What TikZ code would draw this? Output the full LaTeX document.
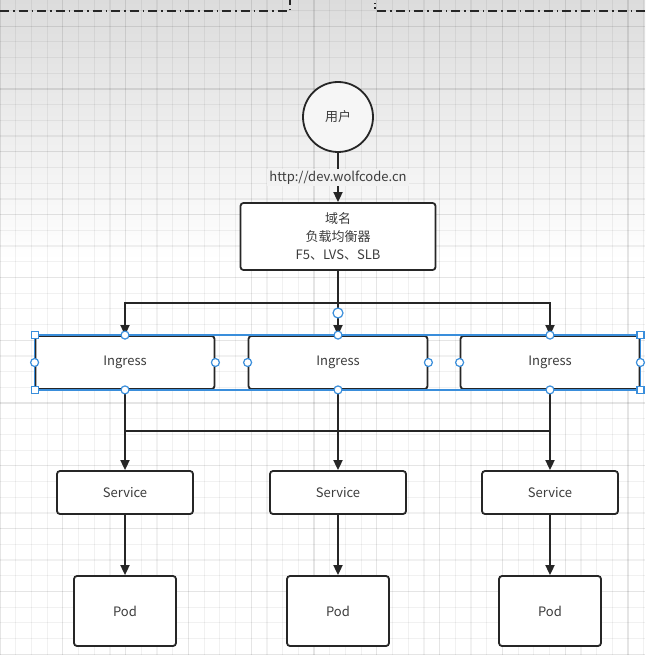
\documentclass[tikz,border=0pt]{standalone}
\usepackage{fontspec}
\setmainfont{Noto Sans CJK SC}
\usetikzlibrary{arrows.meta, positioning}

\definecolor{linec}{HTML}{262626}
\definecolor{textc}{HTML}{3C3C3C}
\definecolor{selc}{HTML}{3A8EDB}
\definecolor{topbg}{HTML}{DCDCDC}

\begin{document}
\begin{tikzpicture}[
      x=1pt, y=-1pt, on grid, >={Triangle[length=10pt,width=9pt]},
      every node/.style={text=textc, font=\fontsize{13}{18}\selectfont},
      box/.style={draw=linec, line width=1.8pt, rounded corners=3pt, fill=white, inner sep=0pt},
      user/.style={circle, draw=linec, line width=1.8pt, fill=gray!7, minimum size=70pt, inner sep=0pt},
      ingbox/.style={box, minimum width=179pt, minimum height=53pt},
      svcbox/.style={box, minimum width=136pt, minimum height=43pt},
      podbox/.style={box, minimum width=102pt, minimum height=70pt},
      conn/.style={draw=linec, line width=1.8pt},
      sel/.style={draw=selc, line width=1.4pt},
      handle/.style={circle, draw=selc, line width=1.2pt, fill=white, minimum size=8pt, inner sep=0pt},
      corner/.style={rectangle, draw=selc, line width=1.2pt, fill=white, minimum size=7pt, inner sep=0pt},
      gridline/.style={draw=black, opacity=0.055, line width=1.2pt},
      majorline/.style={draw=black, opacity=0.1, line width=1.2pt},
      frame/.style={draw=black!85, line width=1.3pt, dash pattern=on 9pt off 4pt on 1.5pt off 4pt}
      ]

      \useasboundingbox (0,0) rectangle (645,655);
      \fill[white] (0,0) rectangle (645,655);
      \shade[top color=topbg, bottom color=white] (0,0) rectangle (645,260);
      \foreach \i in {0,...,41} {
        \pgfmathtruncatemacro{\m}{mod(\i,4)}
        \ifnum\m=0 \draw[majorline] (\i*15.7,0) -- (\i*15.7,655);
        \else \draw[gridline] (\i*15.7,0) -- (\i*15.7,655); \fi
      }
      \foreach \i in {0,...,41} {
        \pgfmathtruncatemacro{\m}{mod(\i,4)}
        \ifnum\m=1 \draw[majorline] (0,10.5+\i*15.7) -- (645,10.5+\i*15.7);
        \else \draw[gridline] (0,10.5+\i*15.7) -- (645,10.5+\i*15.7); \fi
      }

      \draw[frame] (0,11) -- (290,11) -- (290,0);
      \draw[frame] (645,11) -- (375,11) -- (375,3);

      \node[user]                                         (user)  at (338,117) {用户};
      \node[box, minimum width=195pt, minimum height=67pt, align=center]
                                      [below=119.5pt of user] (lb)    {域名\\负载均衡器\\F5、LVS、SLB};
      \node[ingbox]                   [below=126pt of lb]     (ing_m) {Ingress};
      \node[ingbox]                   [left=213pt of ing_m]   (ing_l) {Ingress};
      \node[ingbox]                   [right=212pt of ing_m]  (ing_r) {Ingress};

      \foreach \k in {l,m,r} {
        \node[svcbox] [below=130pt of ing_\k]   (svc_\k) {Service};
        \node[podbox] [below=118.5pt of svc_\k] (pod_\k) {Pod};
      }

      \coordinate (bus_a) at (lb |- 0,303);
      \draw[conn,->] (user) -- node[fill=white!95!black, inner sep=2pt] {http://dev.wolfcode.cn} (lb);
      \draw[conn] (lb) -- (bus_a);
      \draw[conn,->] (bus_a) -| (ing_l);
      \draw[conn,->] (bus_a) -| (ing_r);
      \draw[conn,->] (bus_a) -- (ing_m);

      \draw[conn] (ing_l |- 0,431) -- (ing_r |- 0,431);
      \foreach \k in {l,m,r} {
        \draw[conn,->] (ing_\k) -- (svc_\k);
        \draw[conn,->] (svc_\k) -- (pod_\k);
      }

      \draw[sel] (ing_l.north west) rectangle (ing_r.south east);
      \foreach \k in {l,m,r}
        \foreach \a in {north,south,east,west}
          \node[handle] at (ing_\k.\a) {};
      \foreach \a/\b in {l/north west, l/south west, r/north east, r/south east}
        \node[corner] at (ing_\a.\b) {};
      \node[handle, minimum size=10pt] (rot) at (338,313) {};
    \end{tikzpicture}
\end{document}
